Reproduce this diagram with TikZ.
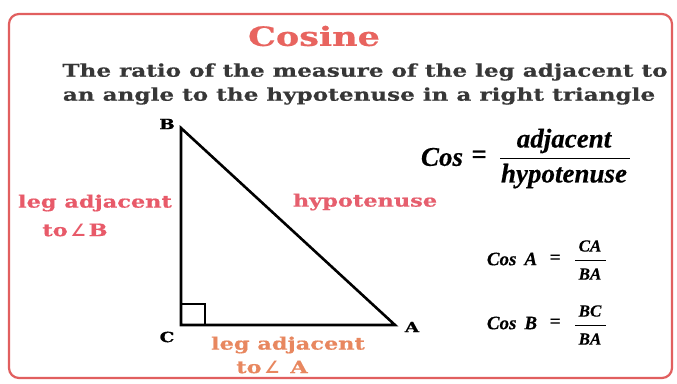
\documentclass[tikz,border=0pt]{standalone}
\usepackage{fontspec}
\setmainfont{DejaVu Serif}
\newfontfamily\slab[FakeStretch=1.32,FakeBold=0.6]{DejaVu Serif}
\newfontfamily\angfont{DejaVu Sans}
\newfontfamily\formfont[FakeBold=0.4]{Liberation Serif}
\definecolor{framec}{RGB}{225,95,95}
\definecolor{titlec}{RGB}{232,100,95}
\definecolor{legb}{RGB}{232,90,105}
\definecolor{hypc}{RGB}{230,95,110}
\definecolor{lega}{RGB}{232,135,95}
\definecolor{ink}{RGB}{55,55,55}
\tikzset{
  lbl/.style={inner sep=0pt, font=\slab\bfseries\fontsize{17}{17}\selectfont},
  vtx/.style={inner sep=0pt, font=\slab\bfseries\fontsize{14}{14}\selectfont, text=black},
  body/.style={inner sep=0pt, text=ink, font=\slab\bfseries\fontsize{17.5}{17.5}\selectfont},
  fbig/.style={inner sep=0pt, font=\formfont\bfseries\itshape\fontsize{27}{27}\selectfont},
  fsmall/.style={inner sep=0pt, font=\formfont\bfseries\itshape\fontsize{19}{19}\selectfont},
  fsub/.style={inner sep=0pt, font=\formfont\bfseries\itshape\fontsize{17}{17}\selectfont},
}
\begin{document}
\begin{tikzpicture}[x=1pt,y=-1pt]
\useasboundingbox (0,0) rectangle (677,383);
\fill[white] (0,0) rectangle (677,383);
\draw[framec, line width=2.2pt, rounded corners=10pt] (9,14) rectangle (672,378);
% title and definition
\node[inner sep=0pt, text=titlec, font=\slab\bfseries\fontsize{26.5}{26.5}\selectfont] (title) at (314,36) {Cosine};
\node[body] (l1) at (365,72) {The ratio of the measure of the leg adjacent to};
\node[body] (l2) at (359,96) {an angle to the hypotenuse in a right triangle};
% triangle
\coordinate (B) at (181,128);
\coordinate (C) at (181,325);
\coordinate (A) at (395,325);
\draw[line width=2.6pt, line join=miter] (B) -- (C) -- (A) -- cycle;
\draw[line width=2pt] (181,304) -| (205,325);
\node[vtx] (lB) at (167,124) {B};
\node[vtx] (lC) at (167,337) {C};
\node[vtx] (lA) at (412,327) {A};
\node[lbl, text=legb, align=center] (legB1) at (95,203) {leg adjacent};
\node[lbl, text=legb] (legB2) at (75,230) {to\,{\angfont\bfseries ∠}\,B};
\node[lbl, text=hypc] (hyp) at (365,202) {hypotenuse};
\node[lbl, text=lega] (legA1) at (288,345) {leg adjacent};
\node[lbl, text=lega] (legA2) at (272,367) {to\,{\angfont\bfseries ∠}\, A};
% formulas
\node[fbig] (cos) at (442,157) {Cos};
\node[fbig] (eq) at (479,157) {=};
\node[fbig] (num) at (564,141) {adjacent};
\node[fbig] (den) at (564,176) {hypotenuse};
\draw[line width=1pt] (500,158) -- (630,158);
\node[fsmall] (cosA) at (512,259) {Cos\hspace{8pt}A};
\node[fsmall] (eqA) at (555,259) {=};
\node[fsub] (CA) at (590,246) {CA};
\node[fsub] (BA1) at (590,274) {BA};
\draw[line width=0.8pt] (575,260) -- (606,260);
\node[fsmall] (cosB) at (512,323) {Cos\hspace{8pt}B};
\node[fsmall] (eqB) at (555,323) {=};
\node[fsub] (BC) at (590,311) {BC};
\node[fsub] (BA2) at (590,339) {BA};
\draw[line width=0.8pt] (575,325) -- (606,325);
\end{tikzpicture}
\end{document}
